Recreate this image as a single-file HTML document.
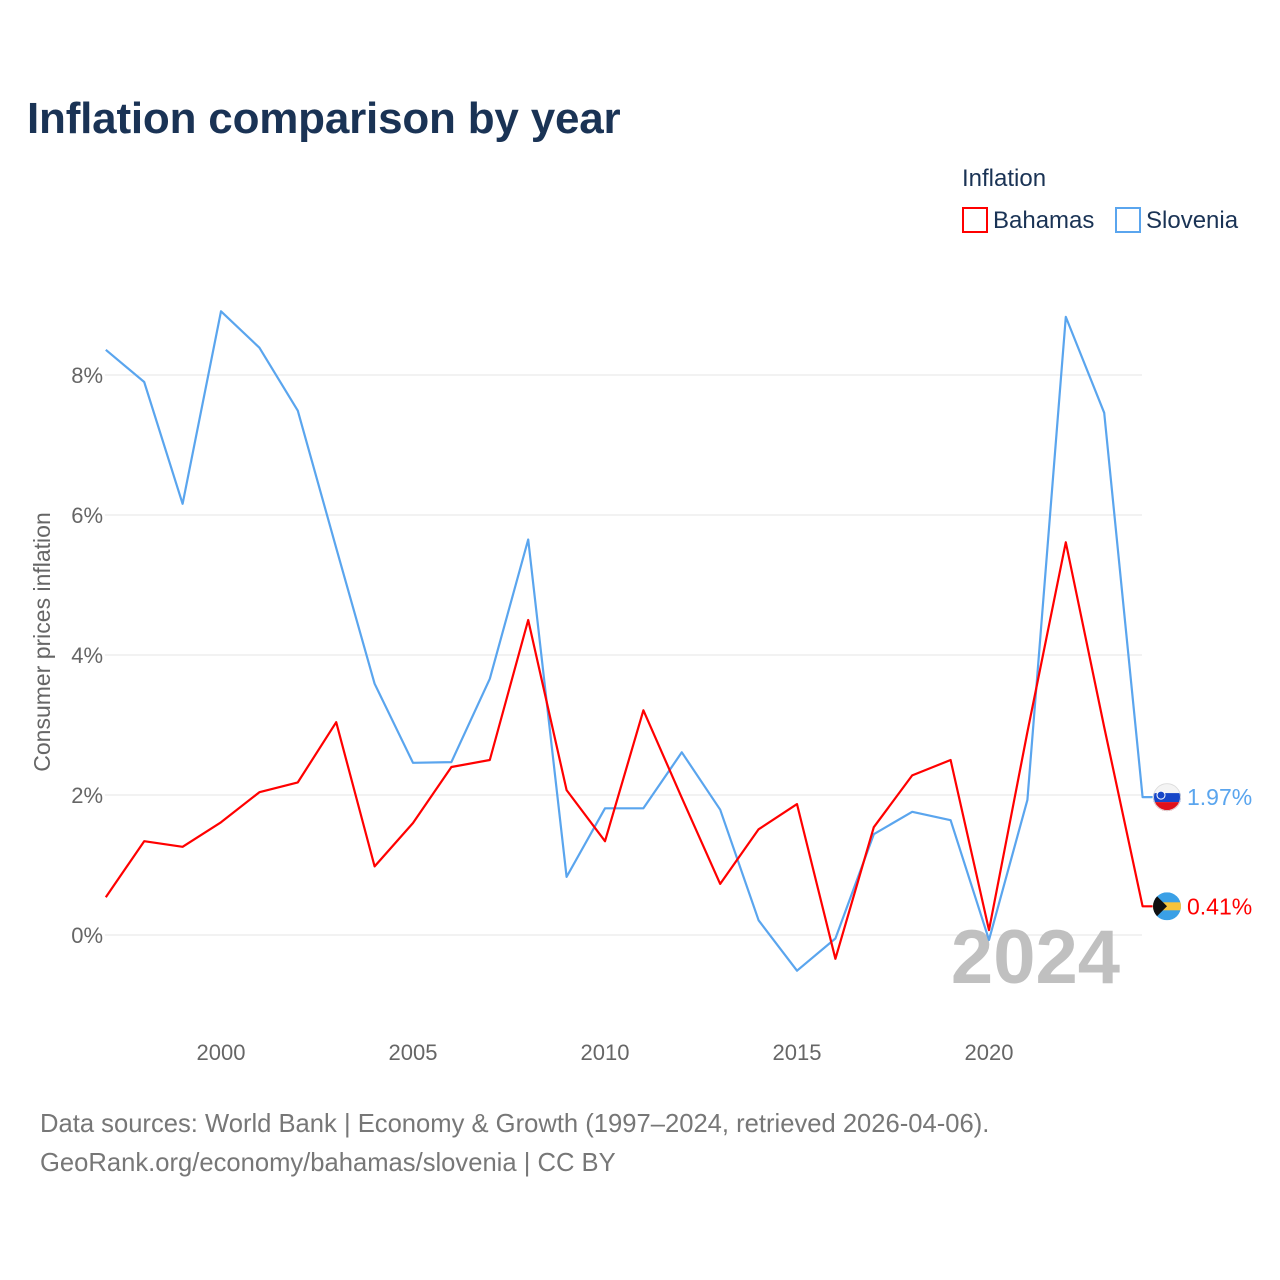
<!DOCTYPE html>
<html><head><meta charset="utf-8">
<style>
body{margin:0;background:#fff;font-family:"Liberation Sans",sans-serif;}
#wrap{position:relative;width:1280px;height:1280px;overflow:hidden;}
</style></head>
<body><div id="wrap">
<svg id="svg" width="1280" height="1280">
<defs>
<clipPath id="cs"><circle id="csc" cx="1167" cy="0" r="14"/></clipPath>
<clipPath id="cb"><circle id="cbc" cx="1167" cy="0" r="14"/></clipPath>
</defs>
<text x="27" y="133" font-size="44" font-weight="bold" fill="#1a3355" letter-spacing="-0.2">Inflation comparison by year</text>
<text x="962" y="186" font-size="24" fill="#1a3355">Inflation</text>
<g><rect x="963" y="208" width="24" height="24" fill="none" stroke="#f00" stroke-width="2"/><text x="993" y="228" font-size="24" fill="#1a3355">Bahamas</text></g>
<g><rect x="1116" y="208" width="24" height="24" fill="none" stroke="#5aa5ee" stroke-width="2"/><text x="1146" y="228" font-size="24" fill="#1a3355">Slovenia</text></g>
<text transform="translate(50,642) rotate(-90)" text-anchor="middle" font-size="23" fill="#666">Consumer prices inflation</text>
<g id="grid"></g><g id="xt"></g>
<text x="1120" y="983" text-anchor="end" font-size="76" font-weight="bold" fill="#c0c0c0">2024</text>
<g id="series"></g>
<text x="40" y="1132" font-size="25.6" fill="#777">Data sources: World Bank | Economy &amp; Growth (1997–2024, retrieved 2026-04-06).</text>
<text x="40" y="1171" font-size="25.6" fill="#777">GeoRank.org/economy/bahamas/slovenia | CC BY</text>
</svg></div>
<script>
const years=[1997,1998,1999,2000,2001,2002,2003,2004,2005,2006,2007,2008,2009,2010,2011,2012,2013,2014,2015,2016,2017,2018,2019,2020,2021,2022,2023,2024];
const slovenia=[8.36,7.9,6.16,8.91,8.39,7.49,5.53,3.59,2.46,2.47,3.66,5.65,0.83,1.81,1.81,2.61,1.79,0.21,-0.51,-0.05,1.44,1.76,1.64,-0.07,1.93,8.83,7.46,1.97];
const bahamas=[0.54,1.34,1.26,1.61,2.04,2.18,3.04,0.98,1.6,2.4,2.5,4.5,2.07,1.34,3.21,1.96,0.73,1.51,1.87,-0.34,1.54,2.28,2.5,0.07,2.9,5.61,2.97,0.41];
const yTicks=[0,2,4,6,8];
const xTicks=[2000,2005,2010,2015,2020];
const NS="http://www.w3.org/2000/svg";
const X=y=>221+(y-2000)*38.4;
const Y=v=>935-v*70;
function mk(t,a,p){const e=document.createElementNS(NS,t);for(const k in a)e.setAttribute(k,a[k]);p.appendChild(e);return e;}
const grid=document.getElementById('grid');
yTicks.forEach(v=>{
 const l=mk('line',{x1:105,x2:1142,y1:Y(v),y2:Y(v),stroke:'#e6e6e6','stroke-width':1},grid);
 
 
 const t=mk('text',{x:103,y:Y(v)+8,'text-anchor':'end','font-size':22,fill:'#666'},grid);t.textContent=v+'%';
 
 
});
const xt=document.getElementById('xt');
xTicks.forEach(v=>{
 const t=mk('text',{x:X(v),y:1060,'text-anchor':'middle','font-size':22,fill:'#666'},xt);t.textContent=v;
 
 
});
const S=document.getElementById('series');
function draw(vals,color,name,flag){
 let pts=vals.map((v,i)=>X(years[i])+','+Y(v));
 const last=vals[vals.length-1];
 pts.push((X(2024)+10)+','+Y(last));
 const p=mk('polyline',{points:pts.join(' '),fill:'none',stroke:color,'stroke-width':2.2,'stroke-linejoin':'round'},S);
 
 
 const cy=Y(last),cx=1167;
 const clipId=flag==='si'?'cs':'cb';
 document.getElementById(clipId+'c').setAttribute('cy',cy);
 const g=mk('g',{'clip-path':'url(#'+clipId+')'},S);
 
 
 if(flag==='si'){
  mk('rect',{x:cx-14,y:cy-14,width:28,height:28,fill:'#f4f4f4'},g);
  mk('rect',{x:cx-14,y:cy-4,width:28,height:9,fill:'#1646c8'},g);
  mk('rect',{x:cx-14,y:cy+5,width:28,height:10,fill:'#e0101a'},g);
  mk('circle',{cx:cx-6,cy:cy-2,r:4,fill:'#1646c8',stroke:'#fff','stroke-width':1},g);
  mk('circle',{cx:cx,cy:cy,r:13.5,fill:'none',stroke:'#ddd','stroke-width':1},g);
 }else{
  mk('rect',{x:cx-14,y:cy-14,width:28,height:28,fill:'#3aa0e6'},g);
  mk('rect',{x:cx-14,y:cy-4,width:28,height:8,fill:'#f6c33a'},g);
  mk('path',{d:`M${cx-14},${cy-14} L${cx},${cy} L${cx-14},${cy+14}z`,fill:'#111'},g);
 }
 const t=mk('text',{x:1187,y:cy+8,'font-size':23,fill:color},S);t.textContent=last.toFixed(2)+'%';
 
 
}
draw(slovenia,'#5aa5ee','slovenia','si');
draw(bahamas,'#f00','bahamas','bs');
</script>
</body></html>
